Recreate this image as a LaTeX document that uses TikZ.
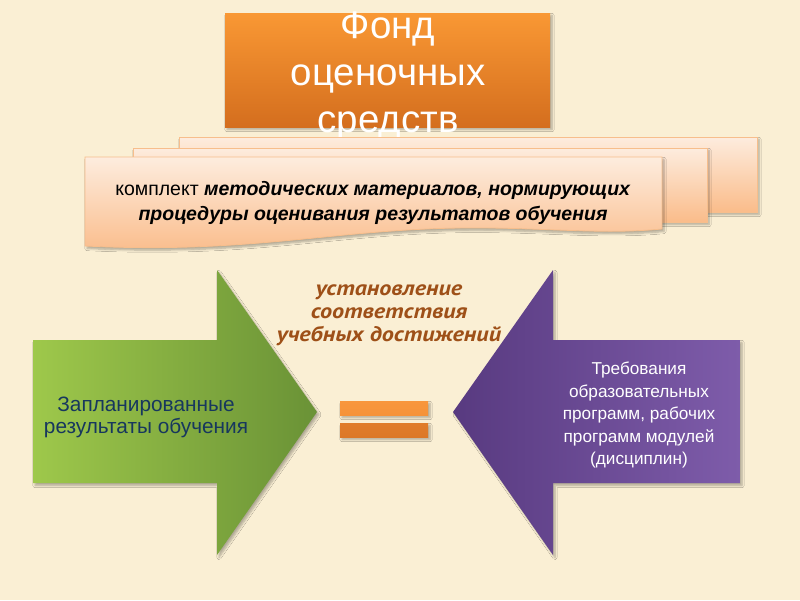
\documentclass[tikz,border=0pt]{standalone}
\usepackage{fontspec}
\setmainfont{Liberation Sans}
\newfontfamily\ptsans[FakeStretch=1.15]{PT Sans}
\usetikzlibrary{shadows.blur}
\definecolor{bgc}{RGB}{250,239,212}
\definecolor{titletop}{RGB}{249,152,52}
\definecolor{titlebot}{RGB}{212,110,30}
\definecolor{doctop}{RGB}{253,236,222}
\definecolor{docbot}{RGB}{250,188,138}
\definecolor{docline}{RGB}{247,190,140}
\definecolor{greenl}{RGB}{158,200,75}
\definecolor{greenr}{RGB}{106,146,54}
\definecolor{purpl}{RGB}{88,58,128}
\definecolor{purpr}{RGB}{126,92,170}
\definecolor{navy}{RGB}{23,55,94}
\definecolor{brownlab}{RGB}{158,80,24}
\definecolor{eqtop}{RGB}{248,150,60}
\definecolor{eqbot}{RGB}{220,120,40}
\tikzset{
  softshadow/.style={blur shadow={shadow xshift=2pt,shadow yshift=-2.5pt,shadow blur steps=6,shadow opacity=30}},
  docbox/.style={top color=doctop,bottom color=docbot,draw=docline,line width=0.8pt,softshadow},
}
\begin{document}
\begin{tikzpicture}[x=1pt,y=-1pt]
\useasboundingbox (0,0) rectangle (800,600);
\fill[bgc] (0,0) rectangle (800,600);

% title box
\shade[top color=titletop,bottom color=titlebot,softshadow] (225,13) rectangle (550,127);
\node[text=white,align=center,font=\fontsize{38.5}{47}\selectfont] (title) at (388,76) {Фонд\\оценочных\\средств};

% stacked documents
\shade[docbox] (179,137) rectangle (757,212);
\shade[docbox] (133,148) rectangle (707,222);
\shade[docbox] (85,157) -- (662,157) -- (662,229) .. controls (600,235) and (540,227) .. (460,228) .. controls (330,230) and (250,254) .. (85,246) -- cycle;
\node[align=center,font=\fontsize{19.5}{25}\selectfont] (doc) at (373,203)
  {комплект \textbf{\textit{методических материалов, нормирующих}}\\\textbf{\textit{процедуры оценивания результатов обучения}}};

% label
\node[align=center,text=brownlab,font=\ptsans\bfseries\itshape\fontsize{21}{23}\selectfont] (lab) at (389,315)
  {установление\\соответствия\\учебных достижений};

% green arrow
\shade[left color=greenl,right color=greenr,softshadow] (33,340) -- (217,340) -- (217,270) -- (317,412) -- (217,555) -- (217,483) -- (33,483) -- cycle;
\node[align=center,text=navy,font=\fontsize{20.8}{22}\selectfont] (planned) at (146,417)
  {Запланированные\\результаты обучения};

% purple arrow
\shade[left color=purpl,right color=purpr,softshadow] (740,340) -- (553,340) -- (553,270) -- (453,412) -- (553,555) -- (553,483) -- (740,483) -- cycle;
\node[align=center,text=white,font=\fontsize{17.2}{22.5}\selectfont] (req) at (639,415)
  {Требования\\образовательных\\программ, рабочих\\программ модулей\\(дисциплин)};

% equals sign
\shade[top color=eqtop,bottom color=eqtop!90!eqbot,softshadow] (340,401) rectangle (428,415);
\shade[top color=eqbot!85!eqtop,bottom color=eqbot,softshadow] (340,423) rectangle (428,437);
\end{tikzpicture}
\end{document}
